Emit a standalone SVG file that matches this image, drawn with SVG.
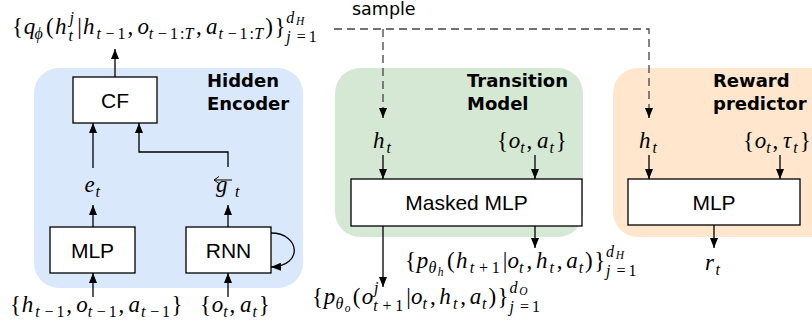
<svg xmlns="http://www.w3.org/2000/svg" width="812" height="332" viewBox="0 0 812 332">
<style>
.panel-b{fill:#dae8fc}
.panel-g{fill:#d5e8d4}
.panel-o{fill:#ffe6cc}
.box{fill:#ffffff;stroke:#000;stroke-width:1.3}
.lbl{font-family:"Liberation Sans",Arial,sans-serif;font-size:21px;fill:#000;text-anchor:middle}
.ttl{font-family:"DejaVu Sans",sans-serif;font-weight:bold;font-size:18px;fill:#000}
.smp{font-family:"DejaVu Sans",sans-serif;font-size:17.5px;fill:#000}
.m{font-family:"Liberation Serif","DejaVu Serif",serif;font-size:23px;font-style:italic;fill:#000}
.u{font-style:normal}
.s{font-size:16px}
.ss{font-size:11.5px}
.arr{fill:none;stroke:#000;stroke-width:1.3}
.dash{fill:none;stroke:#444;stroke-width:1.3;stroke-dasharray:8 5}
</style>
<defs>
<marker id="ah" viewBox="0 0 10 8" markerWidth="10" markerHeight="8" refX="10" refY="4" orient="auto" markerUnits="userSpaceOnUse">
<path d="M0,0 L10,4 L0,8 z" fill="#000"/>
</marker>
</defs>

<g id="hidden-encoder">
<rect class="panel-b" x="34" y="68" width="269" height="220" rx="25"/>
<text class="ttl" x="207" y="87">Hidden</text>
<text class="ttl" x="207" y="110">Encoder</text>
</g>
<g id="transition-model">
<rect class="panel-g" x="335" y="68" width="248" height="169" rx="25"/>
<text class="ttl" x="467" y="87">Transition</text>
<text class="ttl" x="467" y="110">Model</text>
</g>
<g id="reward-predictor">
<rect class="panel-o" x="613" y="68" width="230" height="169" rx="25"/>
<text class="ttl" x="713" y="87">Reward</text>
<text class="ttl" x="713" y="110">predictor</text>
</g>

<g id="cf"><rect class="box" x="73" y="77" width="84" height="46"/><text class="lbl" x="115" y="107.5">CF</text></g>
<g id="mlp-enc"><rect class="box" x="50" y="227" width="85" height="46"/><text class="lbl" x="92.5" y="257.5">MLP</text></g>
<g id="rnn"><rect class="box" x="186" y="227" width="85" height="46"/><text class="lbl" x="228.5" y="257.5">RNN</text></g>
<g id="masked-mlp"><rect class="box" x="351" y="179" width="231" height="47"/><text class="lbl" x="466.5" y="210">Masked MLP</text></g>
<g id="mlp-reward"><rect class="box" x="628" y="179" width="172" height="46"/><text class="lbl" x="714" y="209.5">MLP</text></g>

<g id="connectors">
<path class="arr" d="M115,77 V49" marker-end="url(#ah)"/>
<path class="arr" d="M93,168 V123" marker-end="url(#ah)"/>
<path class="arr" d="M228,167 V152 H139 V123" marker-end="url(#ah)"/>
<path class="arr" d="M93,227 V205" marker-end="url(#ah)"/>
<path class="arr" d="M228,227 V205" marker-end="url(#ah)"/>
<path class="arr" d="M93,297 V273" marker-end="url(#ah)"/>
<path class="arr" d="M228,297 V273" marker-end="url(#ah)"/>
<path class="arr" d="M271,233 C300,233 304,266 271,267" marker-end="url(#ah)"/>
<path class="dash" d="M334,29 H649 V110"/>
<path class="dash" d="M383,29 V110"/>
<path class="arr" d="M383,108 V118" marker-end="url(#ah)"/>
<path class="arr" d="M649,108 V118" marker-end="url(#ah)"/>
<path class="arr" d="M383,155 V179" marker-end="url(#ah)"/>
<path class="arr" d="M535,155 V179" marker-end="url(#ah)"/>
<path class="arr" d="M383,226 V287" marker-end="url(#ah)"/>
<path class="arr" d="M535,226 V248" marker-end="url(#ah)"/>
<path class="arr" d="M649,155 V179" marker-end="url(#ah)"/>
<path class="arr" d="M780,155 V179" marker-end="url(#ah)"/>
<path class="arr" d="M714,225 V248" marker-end="url(#ah)"/>
</g>

<text class="smp" x="352" y="15">sample</text>

<!-- top formula -->
<text class="m">
<tspan class="u" x="12" y="34">{</tspan>
<tspan x="23.8" y="34">q</tspan>
<tspan class="s" x="34.6" y="38.5">ϕ</tspan>
<tspan class="u" x="46" y="34">(</tspan>
<tspan x="55.1" y="34">h</tspan>
<tspan class="s" x="69.5" y="23">j</tspan>
<tspan class="s" x="68.6" y="41">t</tspan>
<tspan class="u" x="77.3" y="34">|</tspan>
<tspan x="82.9" y="34">h</tspan>
<tspan class="s" x="96.4" y="38.5">t</tspan>
<tspan class="s u" x="105.6" y="38.5">−</tspan>
<tspan class="s u" x="117.5" y="38.5">1</tspan>
<tspan class="u" x="127.5" y="34">,</tspan>
<tspan x="137.4" y="34">o</tspan>
<tspan class="s" x="148.8" y="38.5">t</tspan>
<tspan class="s u" x="158" y="38.5">−</tspan>
<tspan class="s u" x="169.9" y="38.5">1</tspan>
<tspan class="s u" x="180" y="38.5">:</tspan>
<tspan class="s" x="184.6" y="38.5">T</tspan>
<tspan class="u" x="196" y="34">,</tspan>
<tspan x="206" y="34">a</tspan>
<tspan class="s" x="218.5" y="38.5">t</tspan>
<tspan class="s u" x="227.7" y="38.5">−</tspan>
<tspan class="s u" x="239.6" y="38.5">1</tspan>
<tspan class="s u" x="249.6" y="38.5">:</tspan>
<tspan class="s" x="254.3" y="38.5">T</tspan>
<tspan class="u" x="265.3" y="34">)</tspan>
<tspan class="u" x="274.4" y="34">}</tspan>
<tspan class="s" x="286.2" y="22.5">d</tspan>
<tspan class="ss" x="296" y="25">H</tspan>
<tspan class="s" x="286.2" y="42">j</tspan>
<tspan class="s u" x="296.8" y="42">=</tspan>
<tspan class="s u" x="308.7" y="42">1</tspan>
</text>

<!-- e_t -->
<text class="m"><tspan x="84.5" y="192">e</tspan><tspan class="s" x="95.5" y="196.5">t</tspan></text>
<!-- g_t with left arrow -->
<text class="m"><tspan x="216" y="192">g</tspan><tspan class="s" x="235" y="196.5">t</tspan></text>
<path d="M214,180 H232 M214,180 l5,-3.5 M214,180 l5,3.5" fill="none" stroke="#000" stroke-width="1"/>

<!-- bottom-left inputs -->
<text class="m">
<tspan class="u" x="10" y="312">{</tspan>
<tspan x="21.75" y="312">h</tspan>
<tspan class="s" x="35.3" y="316.5">t</tspan>
<tspan class="s u" x="44.5" y="316.5">−</tspan>
<tspan class="s u" x="56.4" y="316.5">1</tspan>
<tspan class="u" x="66.3" y="312">,</tspan>
<tspan x="76.25" y="312">o</tspan>
<tspan class="s" x="87.65" y="316.5">t</tspan>
<tspan class="s u" x="96.85" y="316.5">−</tspan>
<tspan class="s u" x="108.75" y="316.5">1</tspan>
<tspan class="u" x="118.6" y="312">,</tspan>
<tspan x="128.6" y="312">a</tspan>
<tspan class="s" x="141" y="316.5">t</tspan>
<tspan class="s u" x="150.2" y="316.5">−</tspan>
<tspan class="s u" x="162.1" y="316.5">1</tspan>
<tspan class="u" x="171.5" y="312">}</tspan>
</text>
<text class="m">
<tspan class="u" x="200" y="312">{</tspan>
<tspan x="211.75" y="312">o</tspan>
<tspan class="s" x="223.15" y="316.5">t</tspan>
<tspan class="u" x="229.6" y="312">,</tspan>
<tspan x="240" y="312">a</tspan>
<tspan class="s" x="252.4" y="316.5">t</tspan>
<tspan class="u" x="258.8" y="312">}</tspan>
</text>

<!-- transition inputs -->
<text class="m"><tspan x="373" y="148">h</tspan><tspan class="s" x="386.5" y="152.5">t</tspan></text>
<text class="m">
<tspan class="u" x="497" y="148">{</tspan>
<tspan x="508.75" y="148">o</tspan>
<tspan class="s" x="520.15" y="152.5">t</tspan>
<tspan class="u" x="526.6" y="148">,</tspan>
<tspan x="537" y="148">a</tspan>
<tspan class="s" x="549.4" y="152.5">t</tspan>
<tspan class="u" x="555.8" y="148">}</tspan>
</text>

<!-- reward inputs -->
<text class="m"><tspan x="639" y="148">h</tspan><tspan class="s" x="652.5" y="152.5">t</tspan></text>
<text class="m">
<tspan class="u" x="743" y="148">{</tspan>
<tspan x="754.75" y="148">o</tspan>
<tspan class="s" x="766.15" y="152.5">t</tspan>
<tspan class="u" x="772.6" y="148">,</tspan>
<tspan x="783" y="148">τ</tspan>
<tspan class="s" x="793.3" y="152.5">t</tspan>
<tspan class="u" x="799.7" y="148">}</tspan>
</text>
<text class="m"><tspan x="705" y="270">r</tspan><tspan class="s" x="715.6" y="274.5">t</tspan></text>

<!-- p_theta_h -->
<text class="m">
<tspan class="u" x="405" y="268">{</tspan>
<tspan x="416.75" y="268">p</tspan>
<tspan class="s" x="428.6" y="272.5">θ</tspan>
<tspan class="ss" x="437.8" y="276">h</tspan>
<tspan class="u" x="447" y="268">(</tspan>
<tspan x="456.1" y="268">h</tspan>
<tspan class="s" x="469.7" y="272.5">t</tspan>
<tspan class="s u" x="478.9" y="272.5">+</tspan>
<tspan class="s u" x="491.7" y="272.5">1</tspan>
<tspan class="u" x="502.8" y="268">|</tspan>
<tspan x="507.6" y="268">o</tspan>
<tspan class="s" x="519" y="272.5">t</tspan>
<tspan class="u" x="526.5" y="268">,</tspan>
<tspan x="535.9" y="268">h</tspan>
<tspan class="s" x="549.4" y="272.5">t</tspan>
<tspan class="u" x="556.8" y="268">,</tspan>
<tspan x="566.2" y="268">a</tspan>
<tspan class="s" x="578.7" y="272.5">t</tspan>
<tspan class="u" x="585.1" y="268">)</tspan>
<tspan class="u" x="594.2" y="268">}</tspan>
<tspan class="s" x="606" y="256.5">d</tspan>
<tspan class="ss" x="615.8" y="259">H</tspan>
<tspan class="s" x="606" y="276">j</tspan>
<tspan class="s u" x="616.6" y="276">=</tspan>
<tspan class="s u" x="628.5" y="276">1</tspan>
</text>

<!-- p_theta_o -->
<text class="m">
<tspan class="u" x="312" y="304">{</tspan>
<tspan x="323.75" y="304">p</tspan>
<tspan class="s" x="335.6" y="308.5">θ</tspan>
<tspan class="ss" x="344.8" y="312">o</tspan>
<tspan class="u" x="352.7" y="304">(</tspan>
<tspan x="361.8" y="304">o</tspan>
<tspan class="s" x="374" y="293">j</tspan>
<tspan class="s" x="373.2" y="311">t</tspan>
<tspan class="s u" x="382.4" y="311">+</tspan>
<tspan class="s u" x="395.2" y="311">1</tspan>
<tspan class="u" x="406.3" y="304">|</tspan>
<tspan x="411.1" y="304">o</tspan>
<tspan class="s" x="422.5" y="308.5">t</tspan>
<tspan class="u" x="430" y="304">,</tspan>
<tspan x="439.3" y="304">h</tspan>
<tspan class="s" x="452.9" y="308.5">t</tspan>
<tspan class="u" x="460.3" y="304">,</tspan>
<tspan x="469.7" y="304">a</tspan>
<tspan class="s" x="482.1" y="308.5">t</tspan>
<tspan class="u" x="488.5" y="304">)</tspan>
<tspan class="u" x="497.6" y="304">}</tspan>
<tspan class="s" x="509.4" y="292.5">d</tspan>
<tspan class="ss" x="519.2" y="295">O</tspan>
<tspan class="s" x="509.4" y="312">j</tspan>
<tspan class="s u" x="520" y="312">=</tspan>
<tspan class="s u" x="531.9" y="312">1</tspan>
</text>
</svg>
